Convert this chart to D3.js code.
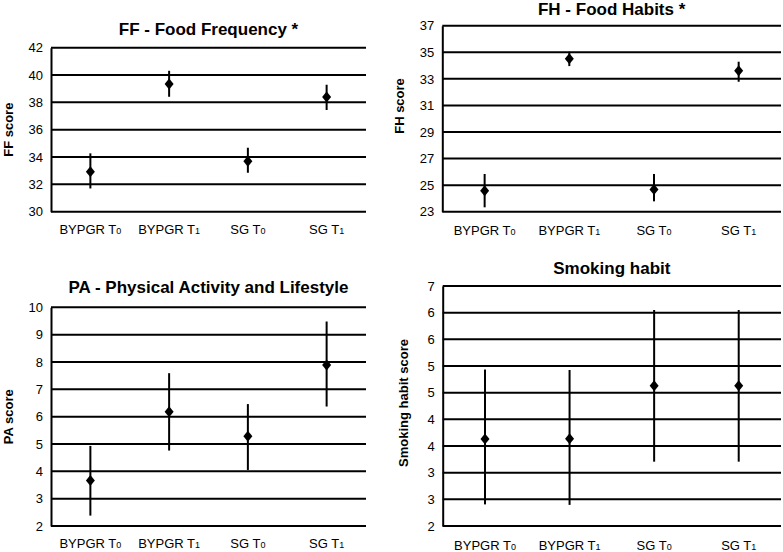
<!DOCTYPE html>
<html>
<head>
<meta charset="utf-8">
<script src="https://cdn.jsdelivr.net/npm/d3@7"></script>
<style>
  html, body { margin: 0; padding: 0; background: #fff; }
  svg { display: block; font-family: "Liberation Sans", Arial, sans-serif; }
</style>
</head>
<body>
<svg id="chart" width="783" height="552"></svg>
<script>
// Categories (main label + subscript digit)
const categories = ["BYPGR T0", "BYPGR T1", "SG T0", "SG T1"];
const catMain = ["BYPGR T", "BYPGR T", "SG T", "SG T"];
const catSub = ["0", "1", "0", "1"];

// FF - Food Frequency
const ffMean = [32.93, 39.34, 33.69, 38.39];
const ffLow  = [31.70, 38.41, 32.85, 37.44];
const ffHigh = [34.27, 40.31, 34.68, 39.29];
const ffTicks = [30, 32, 34, 36, 38, 40, 42];

// FH - Food Habits
const fhMean = [24.58, 34.51, 24.68, 33.61];
const fhLow  = [23.33, 33.96, 23.78, 32.78];
const fhHigh = [25.84, 35.04, 25.84, 34.29];
const fhTicks = [23, 25, 27, 29, 31, 33, 35, 37];

// PA - Physical Activity and Lifestyle
const paMean = [3.66, 6.18, 5.28, 7.89];
const paLow  = [2.38, 4.76, 4.05, 6.37];
const paHigh = [4.93, 7.59, 6.46, 9.48];
const paTicks = [2, 3, 4, 5, 6, 7, 8, 9, 10];

// Smoking habit
const smMean = [3.81, 3.82, 4.92, 4.92];
const smLow  = [2.45, 2.44, 3.34, 3.34];
const smHigh = [5.26, 5.25, 6.50, 6.50];
const smTicks = [2, 2.556, 3.111, 3.667, 4.222, 4.778, 5.333, 5.889, 6.444, 7];

const panels = [
  { title: "FF - Food Frequency *", ylabel: "FF score", mean: ffMean, low: ffLow, high: ffHigh, ticks: ffTicks,
    x0: 51, x1: 366, y0: 47.7, y1: 211.7, titleY: 35, ylabX: 13, ylabY: 129.7, xlabY: 234 },
  { title: "FH - Food Habits *", ylabel: "FH score", mean: fhMean, low: fhLow, high: fhHigh, ticks: fhTicks,
    x0: 442.3, x1: 781, y0: 25.7, y1: 211.7, titleY: 15, ylabX: 404, ylabY: 106, xlabY: 235 },
  { title: "PA - Physical Activity and Lifestyle", ylabel: "PA score", mean: paMean, low: paLow, high: paHigh, ticks: paTicks,
    x0: 51, x1: 366, y0: 307.3, y1: 526, titleY: 292.5, ylabX: 13, ylabY: 416.7, xlabY: 547.5 },
  { title: "Smoking habit", ylabel: "Smoking habit score", mean: smMean, low: smLow, high: smHigh, ticks: smTicks,
    x0: 442.7, x1: 781, y0: 286, y1: 526, titleY: 274, ylabX: 408, ylabY: 403, xlabY: 549.5 }
];

const svg = d3.select("#chart");

panels.forEach(p => {
  const g = svg.append("g");
  const x = d3.scalePoint().domain(categories).range([p.x0, p.x1]).padding(0.5);
  const y = d3.scaleLinear().domain([p.ticks[0], p.ticks[p.ticks.length - 1]]).range([p.y1, p.y0]);

  // gridlines
  g.append("g").selectAll("line").data(p.ticks).join("line")
    .attr("x1", p.x0).attr("x2", p.x1)
    .attr("y1", d => y(d)).attr("y2", d => y(d))
    .attr("stroke", "#000").attr("stroke-width", 2);

  // y axis
  const yAxis = d3.axisLeft(y).tickValues(p.ticks).tickSize(0).tickPadding(8)
    .tickFormat(d3.format(".0f"));
  const ya = g.append("g").attr("transform", `translate(${p.x0},0)`).call(yAxis);
  ya.select(".domain").attr("stroke", "#000").attr("stroke-width", 2);
  ya.selectAll("text").attr("font-size", 13).attr("fill", "#000")
    .attr("font-family", "'Liberation Sans', Arial, sans-serif");

  // x labels
  const xl = g.append("g").selectAll("text").data(categories).join("text")
    .attr("x", d => x(d)).attr("y", p.xlabY)
    .attr("text-anchor", "middle").attr("font-size", 13).attr("fill", "#000");
  xl.append("tspan").text((d, i) => catMain[i]);
  xl.append("tspan").attr("font-size", 9).text((d, i) => catSub[i]);

  // error bars
  g.append("g").selectAll("line").data(categories).join("line")
    .attr("x1", d => x(d)).attr("x2", d => x(d))
    .attr("y1", (d, i) => y(p.low[i])).attr("y2", (d, i) => y(p.high[i]))
    .attr("stroke", "#000").attr("stroke-width", 2);

  // diamonds
  g.append("g").selectAll("path").data(categories).join("path")
    .attr("d", (d, i) => {
      const cx = x(d), cy = y(p.mean[i]);
      return `M${cx},${cy - 5.5}L${cx + 4.5},${cy}L${cx},${cy + 5.5}L${cx - 4.5},${cy}Z`;
    })
    .attr("fill", "#000");

  // title
  g.append("text").attr("x", (p.x0 + p.x1) / 2).attr("y", p.titleY)
    .attr("text-anchor", "middle").attr("font-size", 17).attr("font-weight", "bold")
    .text(p.title);

  // y label
  g.append("text")
    .attr("transform", `translate(${p.ylabX},${p.ylabY}) rotate(-90)`)
    .attr("text-anchor", "middle").attr("font-size", 13).attr("font-weight", "bold")
    .text(p.ylabel);
});
</script>
</body>
</html>
